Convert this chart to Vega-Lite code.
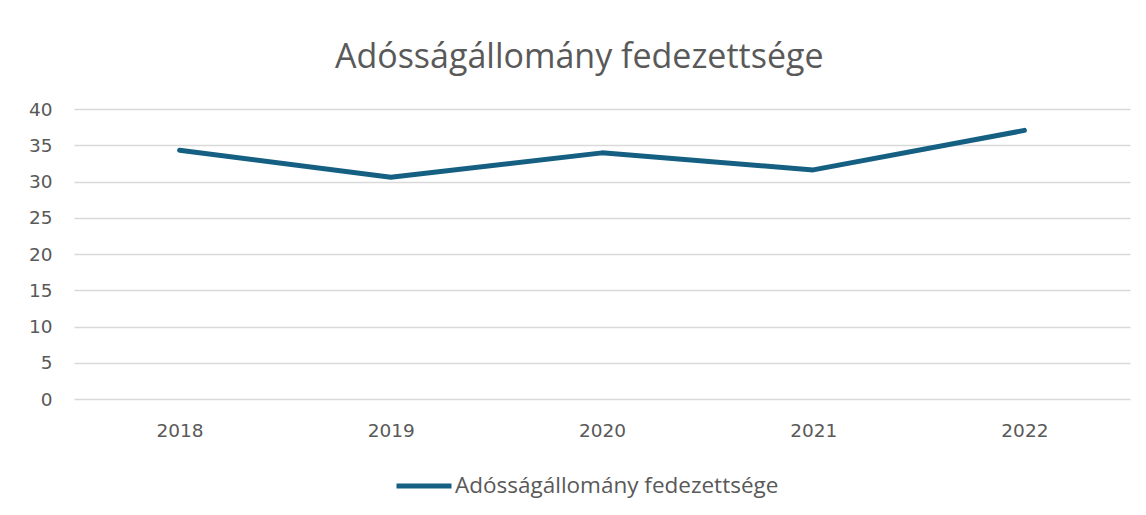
{
  "$schema": "https://vega.github.io/schema/vega-lite/v6.json",
  "autosize": "none",
  "width": 1056,
  "height": 290,
  "padding": {"left": 74, "top": 109, "right": 16, "bottom": 116},
  "background": "white",
  "title": {
    "text": "Adósságállomány fedezettsége",
    "fontSize": 34,
    "font": "Open Sans",
    "fontWeight": "normal",
    "color": "#595959",
    "anchor": "middle",
    "frame": "bounds",
    "offset": 25
  },
  "data": {
    "values": [
      {"year": "2018", "value": 34.3, "series": "Adósságállomány fedezettsége"},
      {"year": "2019", "value": 30.6, "series": "Adósságállomány fedezettsége"},
      {"year": "2020", "value": 33.95, "series": "Adósságállomány fedezettsége"},
      {"year": "2021", "value": 31.6, "series": "Adósságállomány fedezettsége"},
      {"year": "2022", "value": 37.05, "series": "Adósságállomány fedezettsége"}
    ]
  },
  "mark": {"type": "line", "strokeWidth": 5, "strokeCap": "round", "strokeJoin": "round"},
  "encoding": {
    "x": {
      "field": "year", "type": "ordinal", "title": null,
      "scale": {"type": "point", "padding": 0.5},
      "axis": {"labelAngle": 0, "domain": false, "ticks": false, "grid": false, "labelPadding": 22, "labelFontSize": 18.5, "labelColor": "#595959", "labelFont": "DejaVu Sans"}
    },
    "y": {
      "field": "value", "type": "quantitative", "title": null,
      "scale": {"domain": [0, 40], "nice": false, "zero": true},
      "axis": {"values": [0, 5, 10, 15, 20, 25, 30, 35, 40], "domain": false, "ticks": false, "labelPadding": 22, "labelFontSize": 18.5, "labelColor": "#595959", "labelFont": "DejaVu Sans", "gridColor": "#d9d9d9", "gridWidth": 1.5}
    },
    "color": {
      "field": "series", "type": "nominal", "title": null,
      "scale": {"range": ["#156082"]},
      "legend": {"orient": "none", "legendX": 320, "legendY": 347, "direction": "horizontal", "symbolType": "stroke", "symbolSize": 3025, "symbolStrokeWidth": 5, "labelFontSize": 22.5, "labelColor": "#595959", "labelFont": "Open Sans", "labelLimit": 0, "labelOffset": 1, "padding": 0}
    }
  },
  "config": {"view": {"stroke": null}}
}
